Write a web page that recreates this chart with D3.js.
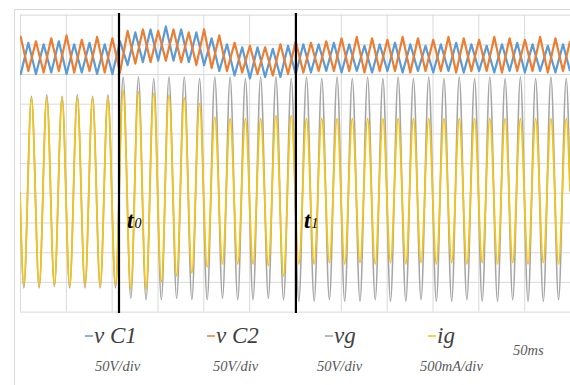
<!DOCTYPE html>
<html>
<head>
<meta charset="utf-8">
<script src="https://cdn.jsdelivr.net/npm/d3@7"></script>
<style>
  html, body { margin: 0; padding: 0; background: #fff; }
  svg { display: block; }
</style>
</head>
<body>
<svg id="chart" width="570" height="385"></svg>
<script>
// ---------------- DATA (screen divisions; 50 ms / div horizontally) ----------------
const xTicks = [0, 50, 100, 150, 200, 250, 300, 350, 400, 450, 500, 550, 600]; // ms
const yTicks = [-5, -4, -3, -2, -1, 0, 1, 2, 3, 4, 5];                          // div

// sample instants (ms) of the peaks / troughs of vg and ig
const tGrid = [0, 4.2, 12.5, 20.9, 29.2, 37.5, 45.9, 54.2, 62.5, 70.9, 79.2, 87.5, 95.9, 104.2,
  112.5, 120.9, 129.2, 137.5, 145.9, 154.2, 162.5, 170.9, 179.2, 187.5, 195.9, 204.2, 212.5, 220.9,
  229.2, 237.5, 245.9, 254.2, 262.5, 270.9, 279.2, 287.5, 295.9, 304.2, 312.5, 320.9, 329.2, 337.5,
  345.9, 354.2, 362.5, 370.9, 379.2, 387.5, 395.9, 404.2, 412.5, 420.9, 429.2, 437.5, 445.9, 454.2,
  462.5, 470.9, 479.2, 487.5, 495.9, 504.2, 512.5, 520.9, 529.2, 537.5, 545.9, 554.2, 562.5, 570.9,
  579.2, 587.5, 595.9, 600];

const vg = [-1.0, -4.2, 2.25, -4.2, 2.3, -4.15, 2.25, -4.2, 2.3, -4.2, 2.25, -4.2, 2.3, -4.2,
  2.9, -4.55, 2.9, -4.6, 2.85, -4.6, 2.9, -4.55, 2.9, -4.6, 2.85, -4.6, 2.9, -4.55,
  2.9, -4.6, 2.85, -4.6, 2.9, -4.55, 2.9, -4.6, 2.85, -4.65, 2.9, -4.65, 2.85, -4.6,
  2.9, -4.65, 2.85, -4.65, 2.9, -4.6, 2.85, -4.65, 2.9, -4.65, 2.85, -4.6, 2.9, -4.65,
  2.85, -4.65, 2.9, -4.6, 2.85, -4.65, 2.9, -4.65, 2.85, -4.6, 2.9, -4.65, 2.85, -4.65,
  2.9, -4.6, 2.85, -0.9];

const ig = [-1.0, -4.1, 2.2, -4.15, 2.2, -4.1, 2.2, -4.15, 2.2, -4.1, 2.2, -4.15, 2.2, -4.1,
  2.45, -4.25, 2.4, -4.25, 2.35, -4.0, 2.3, -3.8, 2.2, -3.7, 2.0, -3.5, 1.55, -3.4,
  1.5, -3.4, 1.5, -3.4, 1.5, -3.45, 1.6, -3.8, 1.6, -3.4, 1.5, -3.4, 1.5, -3.35,
  1.5, -3.4, 1.5, -3.35, 1.5, -3.4, 1.5, -3.35, 1.5, -3.4, 1.5, -3.35, 1.5, -3.4,
  1.5, -3.35, 1.5, -3.4, 1.5, -3.35, 1.5, -3.4, 1.5, -3.35, 1.5, -3.4, 1.5, -3.35,
  1.5, -3.4, 1.5, -0.95];

// sample instants (ms) of the peaks / troughs of vC1 and vC2
const tCap = [0, 0.8, 9.1, 17.4, 25.8, 34.1, 42.4, 50.8, 59.1, 67.4, 75.8, 84.1, 92.4, 100.8,
  109.1, 117.4, 125.8, 134.1, 142.4, 150.8, 159.1, 167.4, 175.8, 184.1, 192.4, 200.8, 209.1, 217.4,
  225.8, 234.1, 242.4, 250.8, 259.1, 267.4, 275.8, 284.1, 292.4, 300.8, 309.1, 317.4, 325.8, 334.1,
  342.4, 350.8, 359.1, 367.4, 375.8, 384.1, 392.4, 400.8, 409.1, 417.4, 425.8, 434.1, 442.4, 450.8,
  459.1, 467.4, 475.8, 484.1, 492.4, 500.8, 509.1, 517.4, 525.8, 534.1, 542.4, 550.8, 559.1, 567.4,
  575.8, 584.1, 592.4, 600];

const vC1 = [3.1, 3.0, 4.05, 3.0, 4.0, 3.05, 4.1, 3.0, 4.0, 3.05, 4.05, 3.0, 4.0, 3.0,
  4.1, 3.3, 4.4, 3.4, 4.5, 3.45, 4.6, 3.45, 4.5, 3.4, 4.4, 3.3, 4.2, 3.1,
  4.0, 2.95, 3.9, 2.85, 3.9, 2.9, 3.85, 2.9, 3.95, 3.0, 4.0, 3.05, 4.0, 3.1,
  4.05, 3.05, 4.0, 3.1, 3.95, 3.05, 4.0, 3.1, 4.05, 3.05, 4.0, 3.1, 3.95, 3.05,
  4.0, 3.1, 4.05, 3.05, 4.0, 3.1, 3.95, 3.05, 4.0, 3.1, 4.05, 3.05, 4.0, 3.1,
  3.95, 3.05, 4.0, 3.1];

const vC2 = [4.15, 4.25, 3.1, 4.1, 3.05, 4.2, 3.1, 4.3, 3.05, 4.15, 3.1, 4.25, 3.05, 4.2,
  3.05, 4.45, 3.35, 4.5, 3.4, 4.45, 3.45, 4.5, 3.4, 4.4, 3.3, 4.5, 3.2, 4.3,
  3.1, 4.05, 3.05, 3.95, 3.0, 3.9, 2.95, 4.0, 3.0, 4.1, 3.05, 4.05, 3.1, 4.1,
  3.1, 4.2, 3.1, 4.25, 3.05, 4.2, 3.1, 4.15, 3.1, 4.25, 3.05, 4.2, 3.1, 4.15,
  3.1, 4.25, 3.05, 4.2, 3.1, 4.15, 3.1, 4.25, 3.05, 4.2, 3.1, 4.15, 3.1, 4.25,
  3.05, 4.2, 3.1, 4.1];

const markerTimes = [108, 301];
const markerSubs = ["0", "1"];

const legendNames = ["v C1", "v C2", "vg", "ig"];
const legendScales = ["50V/div", "50V/div", "50V/div", "500mA/div"];
const timeScaleLabel = "50ms";

// ---------------- LAYOUT ----------------
const colors = { vC1: "#5B9BD5", vC2: "#ED7D31", vg: "#A5A5A5", ig: "#F2C31A" };
const plot = { left: 20, top: 14.6, right: 570, bottom: 311.6 };

const svg = d3.select("#chart");
svg.append("rect").attr("width", 570).attr("height", 385).attr("fill", "#fff");
svg.append("rect").attr("x", 14.5).attr("y", 9.5).attr("width", 600).attr("height", 400)
  .attr("fill", "none").attr("stroke", "#D9D9D9").attr("stroke-width", 1);

const x = d3.scaleLinear().domain([0, 600]).range([plot.left, plot.left + 550]);
const y = d3.scaleLinear().domain([-5, 5]).range([plot.bottom, plot.top]);

// gridlines via axes
const gx = svg.append("g").attr("transform", `translate(0,${plot.bottom})`)
  .call(d3.axisBottom(x).tickValues(xTicks).tickSize(-(plot.bottom - plot.top)).tickFormat(""));
const gy = svg.append("g").attr("transform", `translate(${plot.left},0)`)
  .call(d3.axisLeft(y).tickValues(yTicks).tickSize(-(550)).tickFormat(""));
[gx, gy].forEach(g => {
  g.select(".domain").remove();
  g.selectAll("line").attr("stroke", "#D9D9D9").attr("stroke-width", 1);
});

const clip = svg.append("clipPath").attr("id", "pc").append("rect")
  .attr("x", plot.left).attr("y", 0).attr("width", 560).attr("height", 330);

const line = d3.line().x(d => x(d[0])).y(d => y(d[1]));
const g = svg.append("g").attr("clip-path", "url(#pc)");

g.append("path").datum(d3.zip(tCap, vC1)).attr("d", line.curve(d3.curveLinear))
  .attr("fill", "none").attr("stroke", colors.vC1).attr("stroke-width", 2.2).attr("stroke-linejoin", "round");
g.append("path").datum(d3.zip(tCap, vC2)).attr("d", line.curve(d3.curveLinear))
  .attr("fill", "none").attr("stroke", colors.vC2).attr("stroke-width", 2.2).attr("stroke-linejoin", "round");
g.append("path").datum(d3.zip(tGrid, vg)).attr("d", line.curve(d3.curveMonotoneX))
  .attr("fill", "none").attr("stroke", colors.vg).attr("stroke-width", 1.6);
g.append("path").datum(d3.zip(tGrid, ig)).attr("d", line.curve(d3.curveMonotoneX))
  .attr("fill", "none").attr("stroke", colors.ig).attr("stroke-width", 1.8);

// event markers
markerTimes.forEach((t, i) => {
  svg.append("line").attr("x1", x(t)).attr("x2", x(t)).attr("y1", plot.top - 1.5).attr("y2", plot.bottom + 1.5)
    .attr("stroke", "#000").attr("stroke-width", 2.2);
  const txt = svg.append("text").attr("x", x(t) + 8).attr("y", 228)
    .attr("font-family", "'Liberation Serif', 'Times New Roman', serif").attr("fill", "#000");
  txt.append("tspan").attr("font-size", 23).attr("font-weight", "bold").attr("font-style", "italic").text("t");
  txt.append("tspan").attr("font-size", 14).attr("font-style", "italic").attr("dx", 1).text(markerSubs[i]);
});

// legend
const legendX = [85, 207, 325, 428];
const scaleX = [95, 213, 317, 420];
const legendColors = [colors.vC1, colors.vC2, colors.vg, colors.ig];
legendNames.forEach((name, i) => {
  svg.append("line").attr("x1", legendX[i]).attr("x2", legendX[i] + 8).attr("y1", 336).attr("y2", 336)
    .attr("stroke", legendColors[i]).attr("stroke-width", 1.5);
  svg.append("text").attr("x", legendX[i] + 9).attr("y", 343)
    .attr("font-family", "'Liberation Serif', 'Times New Roman', serif").attr("font-style", "italic")
    .attr("font-size", 23).attr("fill", "#404040").text(name);
  svg.append("text").attr("x", scaleX[i]).attr("y", 371)
    .attr("font-family", "'Liberation Serif', 'Times New Roman', serif").attr("font-style", "italic")
    .attr("font-size", 14.5).attr("fill", "#595959").text(legendScales[i]);
});
svg.append("text").attr("x", 513).attr("y", 355)
  .attr("font-family", "'Liberation Serif', 'Times New Roman', serif").attr("font-style", "italic")
  .attr("font-size", 14.5).attr("fill", "#595959").text(timeScaleLabel);
</script>
</body>
</html>
